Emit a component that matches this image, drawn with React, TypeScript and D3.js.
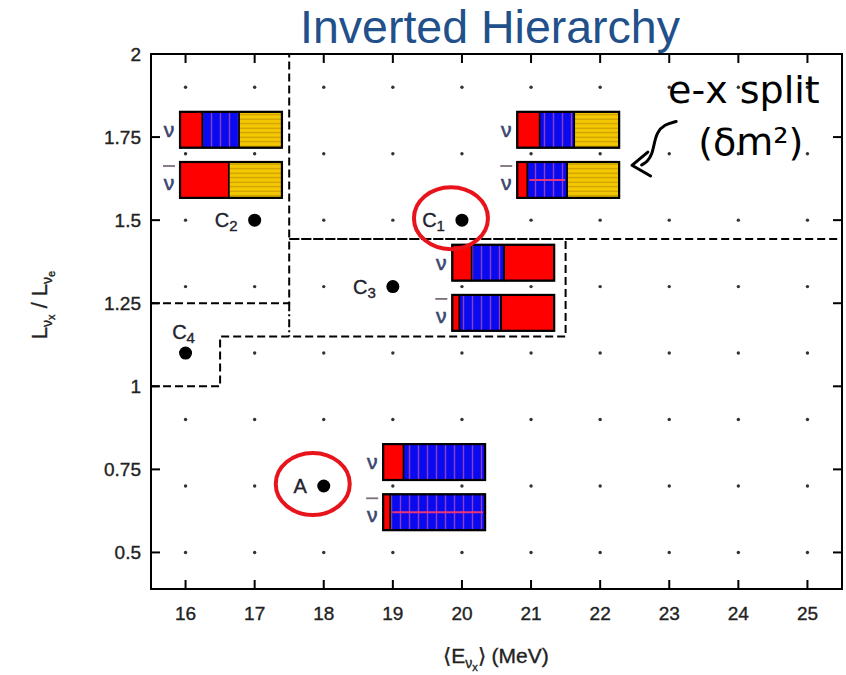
import React from 'react';
import * as d3 from 'd3';

// ---- data ----
const xTicks = [16, 17, 18, 19, 20, 21, 22, 23, 24, 25];
const yTicks = [0.5, 0.75, 1, 1.25, 1.5, 1.75, 2];
const yTickLabels = ['0.5', '0.75', '1', '1.25', '1.5', '1.75', '2'];
const gridX = [16, 17, 18, 19, 20, 21, 22, 23, 24, 25];
const gridY = [0.5, 0.7, 0.9, 1.1, 1.3, 1.5, 1.7, 1.9];

const pointNames = ['C', 'C', 'C', 'C', 'A'];
const pointSubs = ['1', '2', '3', '4', ''];
const pointE = [20, 17, 19, 16, 18];
const pointL = [1.5, 1.5, 1.3, 1.1, 0.7];
const pointCircled = [true, false, false, false, true];
const pointLabelAbove = [false, false, false, true, false];

// glyph bars (ν on top, ν̄ below) : flavour fractions
const glyphLeftE = [15.92, 20.8, 19.86, 18.86];
const glyphMidL = [1.7, 1.7, 1.3, 0.7];
const glyphNu: [string, number][][] = [
  [['e', 0.22], ['x', 0.36], ['s', 0.42]],
  [['e', 0.22], ['x', 0.34], ['s', 0.44]],
  [['e', 0.19], ['x', 0.32], ['e', 0.49]],
  [['e', 0.2], ['x', 0.8]],
];
const glyphNubar: [string, number][][] = [
  [['e', 0.48], ['s', 0.52]],
  [['e', 0.1], ['x', 0.39], ['s', 0.51]],
  [['e', 0.07], ['x', 0.41], ['e', 0.52]],
  [['e', 0.07], ['x', 0.93]],
];
const glyphSplit = [false, true, false, true];

// region boundaries (E, L)
const boundaries: [number, number][][] = [
  [[15.5, 1.25], [17.5, 1.25], [17.5, 2.0]],
  [[15.5, 1.0], [16.5, 1.0], [16.5, 1.15], [21.5, 1.15], [21.5, 1.443], [17.5, 1.443]],
  [[17.5, 1.443], [25.5, 1.443]],
];
const dashDot: [number, number][] = [[17.5, 1.25], [17.5, 1.15]];

// annotation arrow (E, L)
const arrowCurve: [number, number][] = [
  [23.1, 1.797], [22.93, 1.788], [22.82, 1.764], [22.78, 1.728], [22.75, 1.698], [22.69, 1.677], [22.6, 1.666],
];
const arrowHead: [number, number][] = [[22.69, 1.705], [22.46, 1.665], [22.73, 1.633]];

// ---- layout ----
const W = 846, H = 675;
const x = d3.scaleLinear().domain([15.5, 25.5]).range([151, 842]);
const y = d3.scaleLinear().domain([0.39, 2.0]).range([589, 54]);
const GLYPH_W = 1.475;
const BAR_H = 0.108;
const NU_OFF = 0.018;
const NUBAR_OFF = 0.025;

const fills: Record<string, string> = { e: '#ff0000', x: 'url(#blueP)', s: 'url(#yelP)' };

const font = "'Liberation Sans', Arial, sans-serif";

function Bar({ left, top, segs, split }: { left: number; top: number; segs: [string, number][]; split: boolean }) {
  const px0 = x(left);
  const wpx = x(left + GLYPH_W) - px0;
  const hpx = y(0) - y(BAR_H);
  let acc = 0;
  const rects = segs.map(([k, f], i) => {
    const sx = px0 + acc * wpx;
    acc += f;
    return (
      <g key={i}>
        <rect x={sx} y={top} width={f * wpx} height={hpx} fill={fills[k]} stroke="#000" strokeWidth={1.5} />
        {split && k === 'x' ? (
          <line x1={sx + 2} x2={sx + f * wpx - 2} y1={top + hpx / 2} y2={top + hpx / 2} stroke="#e8357a" strokeWidth={2} />
        ) : null}
      </g>
    );
  });
  return (
    <g>
      {rects}
      <rect x={px0} y={top} width={wpx} height={hpx} fill="none" stroke="#000" strokeWidth={2.2} />
    </g>
  );
}

export default function App() {
  const line = d3.line<[number, number]>().x((d) => x(d[0])).y((d) => y(d[1]));
  const curve = d3.line<[number, number]>().x((d) => x(d[0])).y((d) => y(d[1])).curve(d3.curveBasis);
  const x0 = x.range()[0], x1 = x.range()[1], y0 = y.range()[0], y1 = y.range()[1];
  const tickLen = 9;
  const txtStroke = { stroke: '#222', strokeWidth: 0.35 };
  return (
    <svg width={W} height={H} style={{ position: 'absolute', left: 0, top: 0, background: '#fff' }} fontFamily={font}>
      <defs>
        <pattern id="blueP" patternUnits="userSpaceOnUse" width={9} height={10}>
          <rect width={9} height={10} fill="#0a0af0" />
          <line x1={4.5} x2={4.5} y1={0} y2={10} stroke="#8b3fc0" strokeWidth={1.4} />
        </pattern>
        <pattern id="yelP" patternUnits="userSpaceOnUse" width={10} height={4.5}>
          <rect width={10} height={4.5} fill="#f4c800" />
          <line x1={0} x2={10} y1={2.2} y2={2.2} stroke="#c89a00" strokeWidth={1.1} />
        </pattern>
      </defs>
      <rect width={W} height={H} fill="#fff" />

      {/* title */}
      <text x={490} y={43} textAnchor="middle" fontSize={46.5} fill="#21508a">Inverted Hierarchy</text>

      {/* grid dots */}
      {gridX.map((gx) => gridY.map((gy) => (
        <circle key={`${gx}-${gy}`} cx={x(gx)} cy={y(gy)} r={1.7} fill="#333" />
      )))}

      {/* boundaries */}
      {boundaries.map((b, i) => (
        <path key={i} d={line(b) || ''} fill="none" stroke="#000" strokeWidth={2} strokeDasharray="8,4" />
      ))}
      <path d={line(dashDot) || ''} fill="none" stroke="#000" strokeWidth={2} strokeDasharray="8,3,2,3" />

      {/* glyphs */}
      {glyphLeftE.map((le, i) => {
        const nuTop = y(glyphMidL[i] + NU_OFF + BAR_H);
        const nubTop = y(glyphMidL[i] - NUBAR_OFF);
        const hpx = y(0) - y(BAR_H);
        const lx = x(le) - 11;
        return (
          <g key={i}>
            <Bar left={le} top={nuTop} segs={glyphNu[i]} split={false} />
            <Bar left={le} top={nubTop} segs={glyphNubar[i]} split={glyphSplit[i]} />
            <text x={lx} y={nuTop + hpx / 2 + 7} textAnchor="middle" fontSize={21} fill="#3a4570" stroke="#3a4570" strokeWidth={0.6}>ν</text>
            <line x1={lx - 6} x2={lx + 6} y1={nubTop + 4} y2={nubTop + 4} stroke="#7a6f7a" strokeWidth={1.8} />
            <text x={lx} y={nubTop + hpx / 2 + 10} textAnchor="middle" fontSize={21} fill="#3a4570" stroke="#3a4570" strokeWidth={0.6}>ν</text>
          </g>
        );
      })}

      {/* points */}
      {pointE.map((e, i) => {
        const cx = x(e), cy = y(pointL[i]);
        return (
          <g key={i}>
            <circle cx={cx} cy={cy} r={6.5} fill="#000" />
            {pointLabelAbove[i] ? (
              <text x={cx - 2} y={cy - 14} textAnchor="middle" fontSize={20} fill="#223" {...txtStroke}>
                {pointNames[i]}<tspan fontSize={15} dy={4}>{pointSubs[i]}</tspan>
              </text>
            ) : (
              <text x={cx - 17} y={cy + 7} textAnchor="end" fontSize={20} fill="#223" {...txtStroke}>
                {pointNames[i]}{pointSubs[i] ? <tspan fontSize={15} dy={4}>{pointSubs[i]}</tspan> : null}
              </text>
            )}
            {pointCircled[i] ? (
              <ellipse cx={cx - 11} cy={cy - 2} rx={37} ry={31} fill="none" stroke="#e8141c" strokeWidth={4} />
            ) : null}
          </g>
        );
      })}

      {/* annotation */}
      <text x={x(24.08)} y={y(1.853)} textAnchor="middle" fontSize={38} fontFamily="'DejaVu Sans', sans-serif" fill="#000">e-x split</text>
      <text x={x(24.18)} y={y(1.696)} textAnchor="middle" fontSize={38} fontFamily="'DejaVu Sans', sans-serif" fill="#000">(δm²)</text>
      <path d={curve(arrowCurve) || ''} fill="none" stroke="#000" strokeWidth={3} strokeLinecap="round" />
      <path d={line(arrowHead) || ''} fill="none" stroke="#000" strokeWidth={3} strokeLinecap="round" strokeLinejoin="round" />

      {/* frame and ticks */}
      <rect x={x0} y={y1} width={x1 - x0} height={y0 - y1} fill="none" stroke="#000" strokeWidth={2} />
      {xTicks.map((t) => (
        <g key={t}>
          <line x1={x(t)} x2={x(t)} y1={y0} y2={y0 - tickLen} stroke="#000" strokeWidth={2} />
          <line x1={x(t)} x2={x(t)} y1={y1} y2={y1 + tickLen} stroke="#000" strokeWidth={2} />
          <text x={x(t)} y={620} textAnchor="middle" fontSize={19} fill="#222" {...txtStroke}>{t}</text>
        </g>
      ))}
      {yTicks.map((t, i) => (
        <g key={t}>
          <line x1={x0} x2={x0 + tickLen} y1={y(t)} y2={y(t)} stroke="#000" strokeWidth={2} />
          <line x1={x1} x2={x1 - tickLen} y1={y(t)} y2={y(t)} stroke="#000" strokeWidth={2} />
          <text x={141} y={y(t) + 7} textAnchor="end" fontSize={19} fill="#222" {...txtStroke}>{yTickLabels[i]}</text>
        </g>
      ))}

      {/* axis labels */}
      <text x={496} y={663} textAnchor="middle" fontSize={21} fill="#222" {...txtStroke}>
        ⟨E<tspan fontSize={14} dy={5}>ν</tspan><tspan fontSize={11} dy={3}>x</tspan><tspan dy={-8} fontSize={21}>⟩ (MeV)</tspan>
      </text>
      <text transform="translate(47,305) rotate(-90)" textAnchor="middle" fontSize={22} fill="#222" {...txtStroke}>
        L<tspan fontSize={14} dy={5}>ν</tspan><tspan fontSize={11} dy={3}>x</tspan><tspan dy={-8} fontSize={22}> / L</tspan><tspan fontSize={14} dy={5}>ν</tspan><tspan fontSize={11} dy={3}>e</tspan>
      </text>
    </svg>
  );
}
